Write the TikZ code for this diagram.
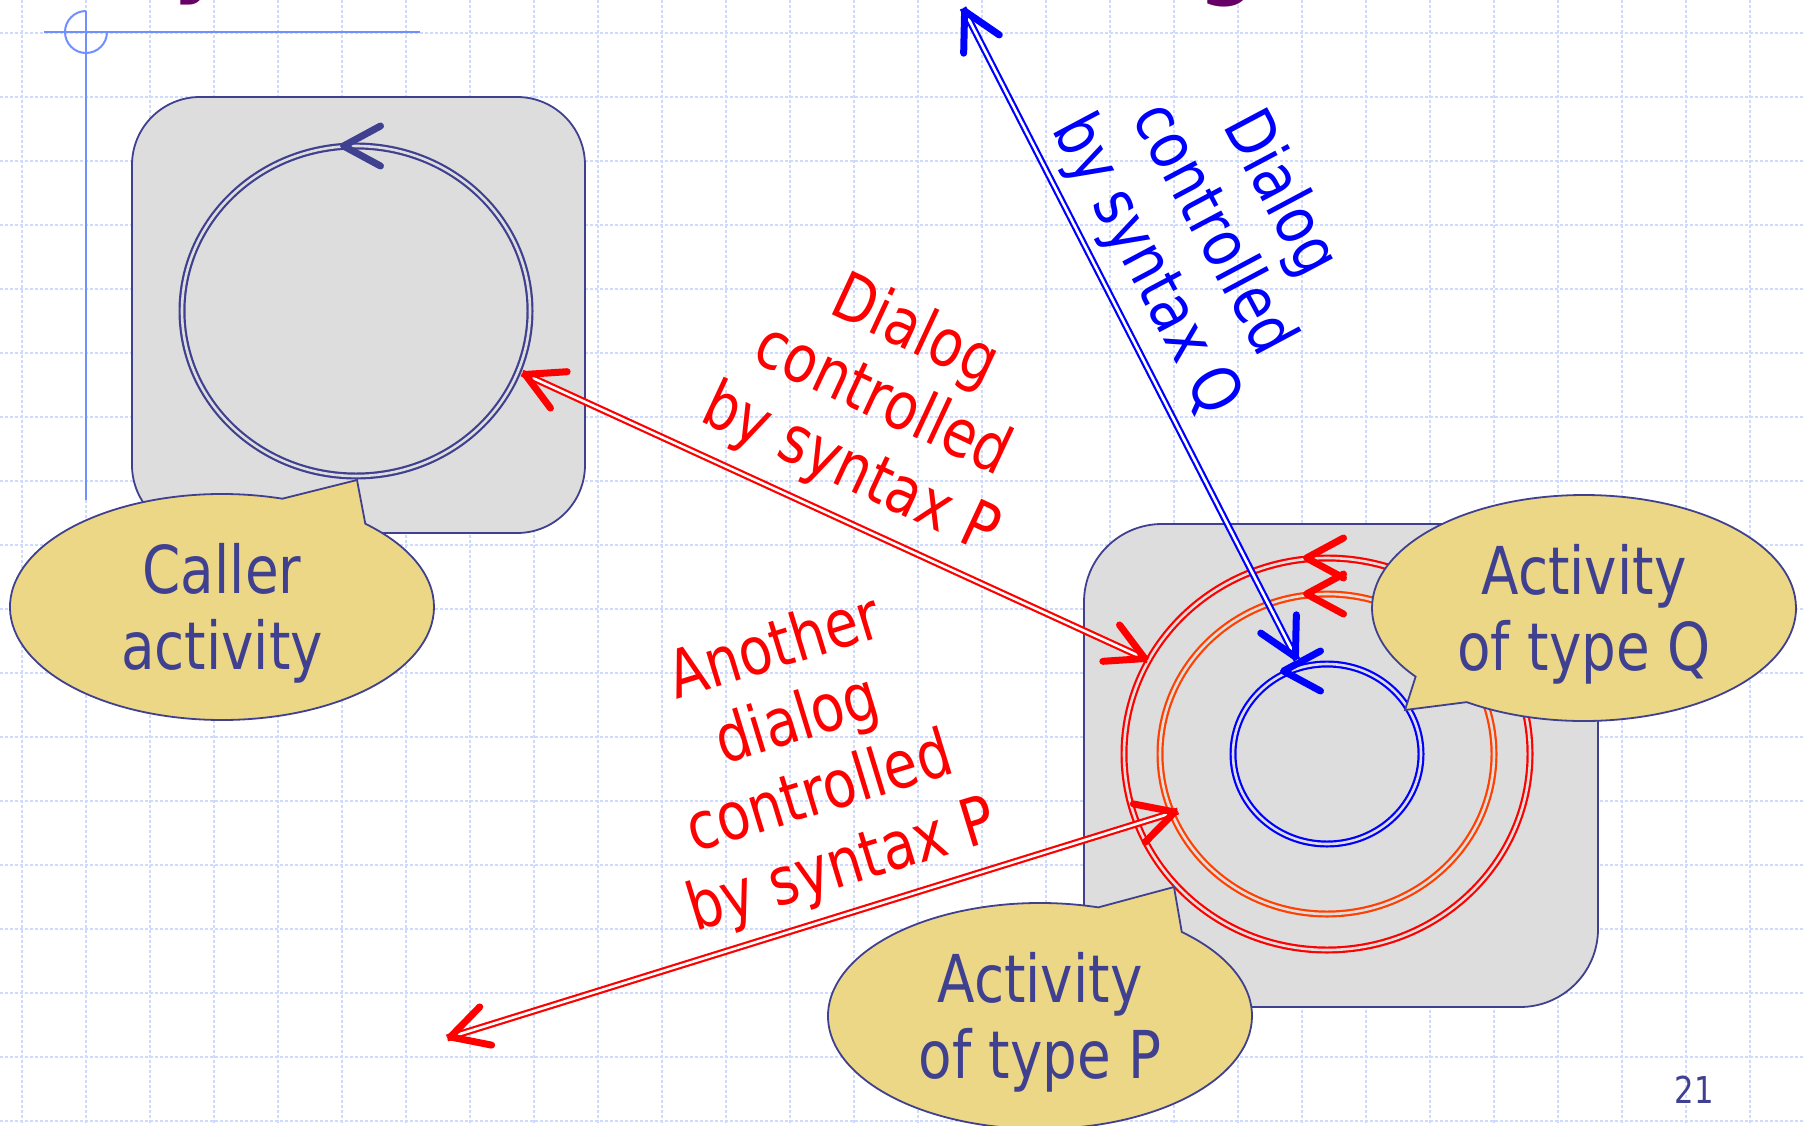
\documentclass[tikz,border=0pt]{standalone}
\usepackage{fontspec}
\setmainfont{DejaVu Sans}[FakeStretch=0.83]
\usetikzlibrary{arrows.meta,calc,shapes.callouts}

\definecolor{inkblue}{RGB}{64,64,144}
\definecolor{boxgray}{RGB}{221,221,221}
\definecolor{callfill}{RGB}{235,215,133}
\definecolor{gridblue}{RGB}{206,218,255}
\definecolor{markblue}{RGB}{112,144,255}
\definecolor{ringorange}{RGB}{255,64,0}
\definecolor{titlepurple}{RGB}{102,0,102}

\newcommand\bubbletop{\rule{0pt}{62pt}}

\tikzset{
  gridline/.style={gridblue, line width=1.2pt, dash pattern=on 3pt off 2pt},
  guide/.style={markblue, line width=2pt},
  panel/.style={fill=boxgray, draw=inkblue, line width=1.8pt},
  ring/.style={line width=2.2pt, double=boxgray, double distance=2.6pt},
  link/.style={line width=2.2pt, double=white, double distance=2.6pt},
  barb/.style={line width=0.1pt, -{Straight Barb[length=37pt, width=40pt, line width=7pt, round]}},
  txt/.style={font={\fontsize{66}{76}\selectfont}, align=center},
  bubble/.style={ellipse callout, txt, draw=inkblue, fill=callfill, text=inkblue,
    line width=1.8pt, minimum width=424pt, minimum height=226pt, inner sep=0pt},
}

\begin{document}
\begin{tikzpicture}[x=1pt, y=-1pt]
    \useasboundingbox (0,0) rectangle (1803,1125);
    \fill [white] (0,0) rectangle (1803,1125);
    \foreach \gx in {0,...,27}
        \draw [gridline] ({22+64*\gx},0) -- ({22+64*\gx},1125);
    \foreach \gy in {0,...,17}
        \draw [gridline] (0,{33+64*\gy}) -- (1803,{33+64*\gy});

    % what is left of the heading
    \node [anchor=base, text=titlepurple, font={\fontsize{100}{100}\selectfont\bfseries}] (titley) at (200,-17) {y};
    \node [anchor=base, text=titlepurple, font={\fontsize{100}{100}\selectfont\bfseries}] (titleg) at (1228,-15) {g};

    % corner mark
    \draw [guide] (44,32) -- (420,32);
    \draw [guide] (86,11) -- (86,500);
    \draw [guide] (86,11) arc [start angle=270, end angle=0, radius=21];

    \draw [panel, rounded corners=68pt] (132,97) rectangle (585,533);
    \draw [panel, rounded corners=78pt] (1084,524) rectangle (1598,1007);

    \coordinate (callerc) at (356,311);
    \coordinate (ringc) at (1327,754);
    \draw [ring, inkblue] (callerc) ellipse [x radius=174, y radius=165];
    \draw [ring, red] (ringc) ellipse [x radius=203, y radius=196];
    \draw [ring, ringorange] (ringc) ellipse [x radius=167, y radius=160];
    \draw [ring, blue] (ringc) ellipse [x radius=94, y radius=90];

    \coordinate (callertip) at (340,146);
    \coordinate (redtip) at (1303,558);
    \coordinate (orangetip) at (1303,594);
    \coordinate (bluetip) at (1280,671);
    \draw [barb, inkblue] ([xshift=1pt]callertip) -- (callertip);
    \draw [barb, red] ([xshift=1pt]redtip) -- (redtip);
    \draw [barb, red] ([xshift=1pt]orangetip) -- (orangetip);
    \draw [barb, blue] ([xshift=1pt]bluetip) -- (bluetip);

    % dialogs
    \coordinate (p1) at (522,373);
    \coordinate (p2) at (1148,660);
    \coordinate (q1) at (447,1038);
    \coordinate (q2) at (1178,811);
    \coordinate (b1) at (963,8);
    \coordinate (b2) at (1297,660);
    \draw [link, red] (p1) -- (p2);
    \draw [barb, red] ($(p1)!1pt!(p2)$) -- (p1);
    \draw [barb, red] ($(p2)!1pt!(p1)$) -- (p2);
    \draw [link, red] (q1) -- (q2);
    \draw [barb, red] ($(q1)!1pt!(q2)$) -- (q1);
    \draw [barb, red] ($(q2)!1pt!(q1)$) -- (q2);
    \draw [link, blue] (b1) -- (b2);
    \draw [barb, blue] ($(b1)!1pt!(b2)$) -- (b1);
    \draw [barb, blue] ($(b2)!1pt!(b1)$) -- (b2);

    \node [txt, red, rotate=-25] (dialogp) at (882,402) {Dialog\\controlled\\by syntax P};
    \node [txt, blue, rotate=-62] (dialogq) at (1212,230) {Dialog\\controlled\\by syntax Q};
    \node [txt, red, rotate=17] (anotherp) at (809,759) {Another\\dialog\\controlled\\by syntax P};

    \node [bubble, callout absolute pointer={(357,480)}, callout pointer arc=26] (caller) at (222,607) {\bubbletop Caller\\activity};
    \node [bubble, callout absolute pointer={(1405,710)}, callout pointer arc=19] (typeq) at (1584,608) {\bubbletop Activity\\of type Q};
    \node [bubble, callout absolute pointer={(1174,887)}, callout pointer arc=26] (typep) at (1040,1016) {\bubbletop Activity\\of type P};

    \node [anchor=base, text=inkblue, font={\fontsize{37}{40}\selectfont}] (pageno) at (1694,1103) {21};
\end{tikzpicture}
\end{document}
